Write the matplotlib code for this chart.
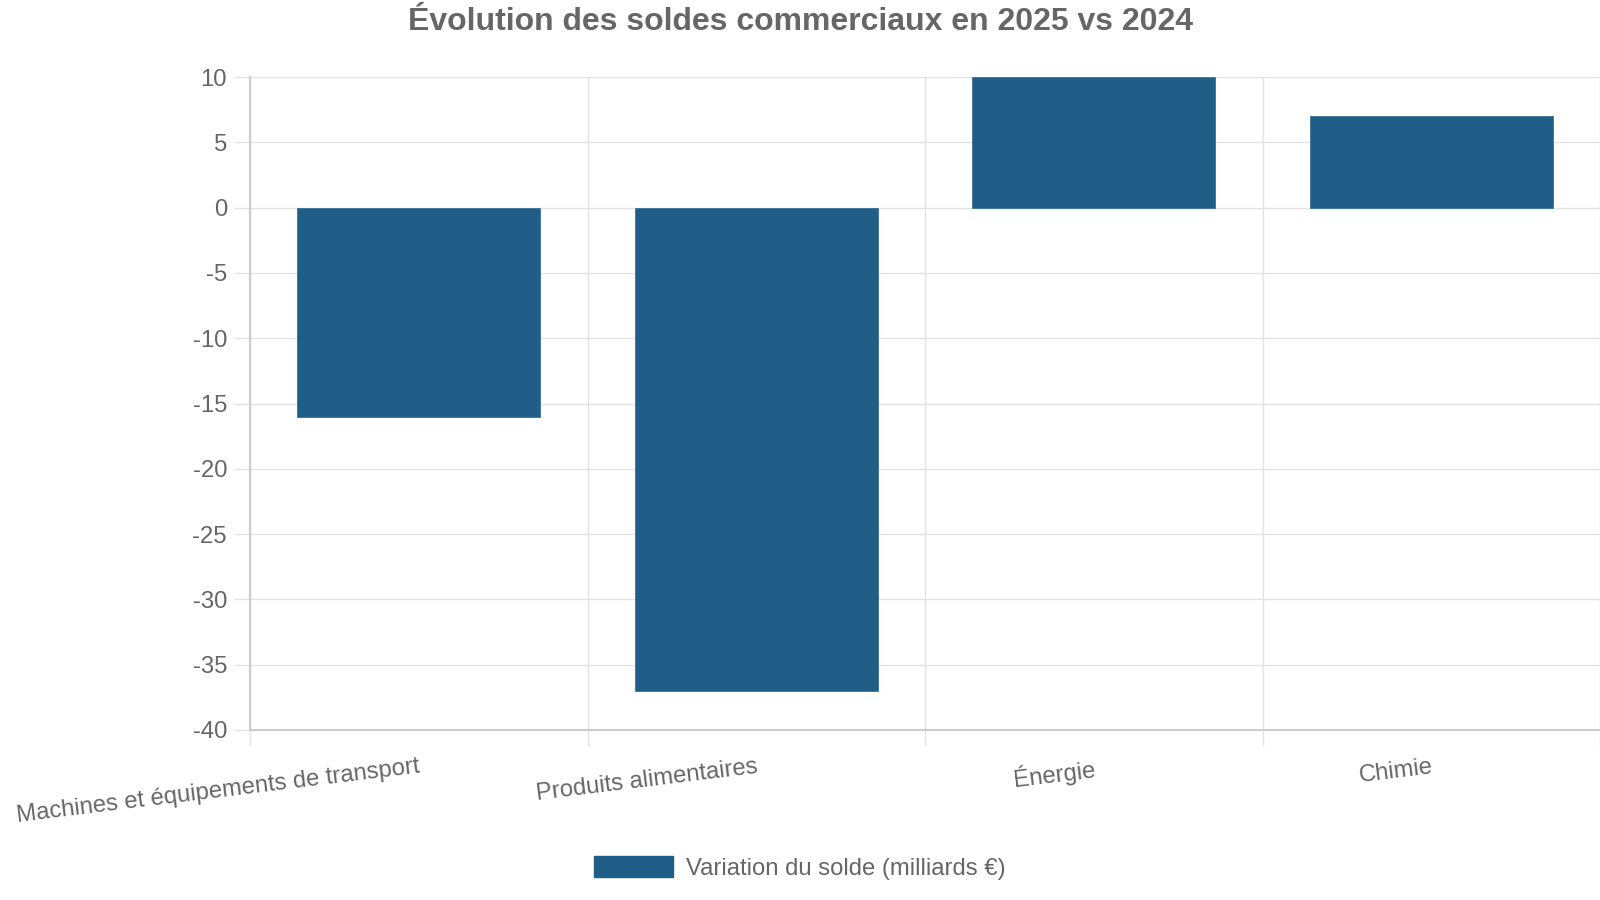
import matplotlib
matplotlib.use("Agg")
from matplotlib import pyplot as plt
from matplotlib.patches import Patch

plt.rcParams['font.family'] = ['Liberation Sans', 'DejaVu Sans']

categories = ["Machines et équipements de transport", "Produits alimentaires", "Énergie", "Chimie"]
variation = [-16, -37, 10, 7]
y_ticks = [10, 5, 0, -5, -10, -15, -20, -25, -30, -35, -40]
title = "Évolution des soldes commerciaux en 2025 vs 2024"
series_label = "Variation du solde (milliards €)"

bar_color = '#205d87'
text_color = '#666666'
grid_color = '#e2e2e2'
axis_color = '#cccccc'

fig = plt.figure(figsize=(16, 9), dpi=100)
ax = fig.add_axes([250 / 1600, 1 - 730 / 900, 1 - 250 / 1600, (730 - 77) / 900])

x = list(range(len(categories)))
ax.bar(x, variation, width=0.72, color=bar_color, edgecolor='#3a7099', linewidth=0.6, zorder=3)

ax.set_xlim(-0.5, len(categories) - 0.5)
ax.set_ylim(-40, 10)
ax.set_yticks(y_ticks)
ax.set_yticklabels([str(v) for v in y_ticks])

# category boundaries as gridlines (chart.js offset grid)
ax.set_xticks(x)
ax.set_xticks([i - 0.5 for i in range(len(categories) + 1)], minor=True)
ax.set_xticklabels(categories, rotation=7, ha='right', va='top', rotation_mode='anchor')
ax.tick_params(axis='x', which='major', length=0, pad=18.5, labelsize=17.2, labelcolor=text_color)
ax.tick_params(axis='x', which='minor', length=11.5, width=1, color=grid_color)
ax.tick_params(axis='y', length=11.5, width=1, color=grid_color, pad=5, labelsize=17.2, labelcolor=text_color)

ax.grid(True, axis='y', color=grid_color, linewidth=1, zorder=0)
ax.grid(True, axis='x', which='minor', color=grid_color, linewidth=1, zorder=0)
ax.set_axisbelow(True)

for side in ['top', 'right']:
    ax.spines[side].set_visible(False)
for side in ['left', 'bottom']:
    ax.spines[side].set_color(axis_color)
    ax.spines[side].set_linewidth(1.5)

fig.text(0.5, 1 - 22 / 900, title, ha='center', va='center', fontsize=23,
         fontweight='bold', color=text_color)

handle = Patch(facecolor=bar_color, edgecolor=bar_color)
fig.legend([handle], [series_label], loc='center', bbox_to_anchor=(0.5, 1 - 868 / 900),
           frameon=False, fontsize=17.2, labelcolor=text_color,
           handlelength=3.3, handleheight=1.0, handletextpad=0.55)

plt.savefig("out.png", dpi=100)
